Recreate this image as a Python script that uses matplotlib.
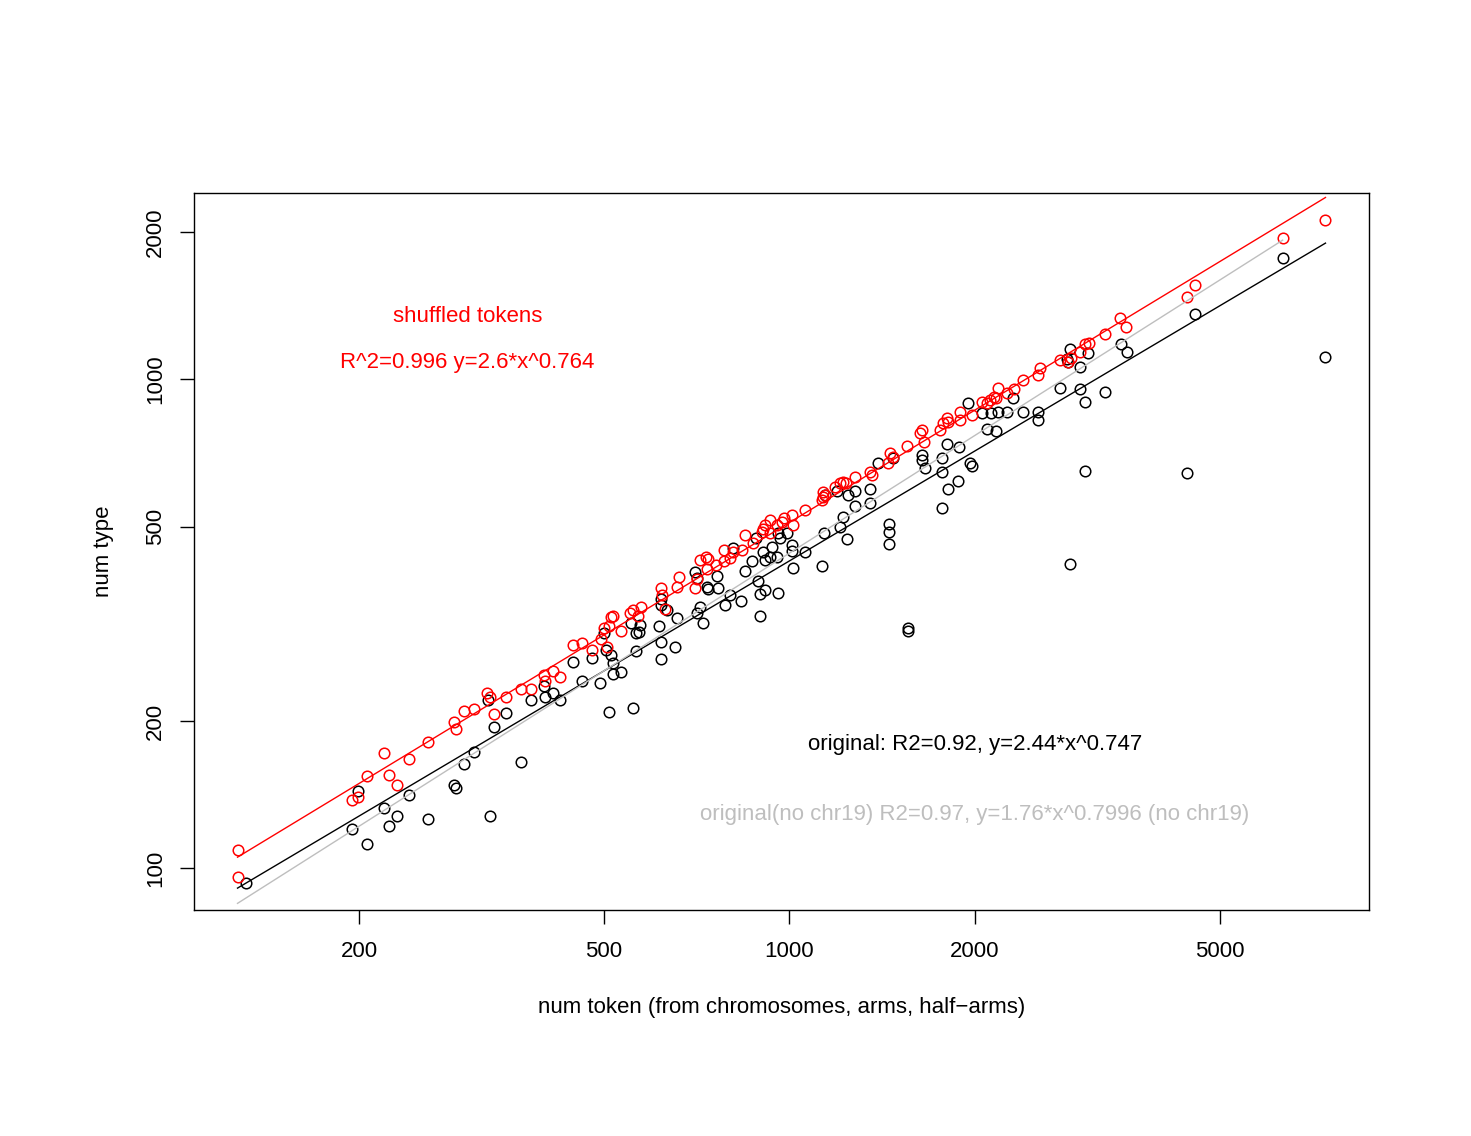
import numpy as np
import matplotlib
matplotlib.use("Agg")
import matplotlib.pyplot as plt

plt.rcParams['font.family'] = ['Liberation Sans', 'DejaVu Sans']

# ---- data: original (black) ----
orig_token = [131, 199, 195, 206, 220, 231, 224, 241, 259, 285, 288, 296, 308, 326,
              332, 324, 346, 366, 380, 399, 401, 413, 425, 445, 460, 478, 492, 501,
              503, 513, 518, 518, 532, 509, 558, 554, 573, 569, 563, 615, 618, 618,
              564, 618, 620, 634, 656, 653, 704, 707, 717, 709, 736, 738, 764, 767,
              725, 787, 802, 811, 836, 848, 871, 884, 888, 897, 897, 908, 914, 932,
              939, 956, 914, 960, 960, 967, 993, 1011, 1015, 1062, 1131, 1140, 1011,
              1144, 1196, 1247, 1279, 1210, 1224, 1241, 1279, 1353, 1353, 1395, 1453,
              1453, 1453, 1475, 1643, 1643, 1662, 1771, 1771, 1771, 1804, 1811, 1880,
              1887, 1951, 1966, 1981, 2056, 2127, 2183, 2257, 2094, 2166, 2308, 2396,
              2534, 2534, 2751, 2835, 2964, 2964, 3021, 3255, 3021, 2856, 2856, 2824,
              3055, 3455, 3534, 4420, 6328, 4555, 7428, 1560, 1560]
orig_type = [93, 144, 120, 112, 133, 128, 122, 141, 126, 148, 146, 163, 173, 128,
             194, 221, 208, 165, 221, 236, 224, 228, 221, 264, 242, 269, 239, 302,
             279, 273, 263, 249, 252, 209, 213, 317, 314, 304, 303, 313, 290, 268,
             278, 356, 345, 337, 325, 284, 403, 392, 342, 332, 376, 372, 396, 374,
             317, 345, 362, 451, 352, 405, 425, 473, 386, 328, 363, 443, 427, 433,
             453, 433, 370, 365, 484, 473, 484, 458, 411, 443, 415, 484, 445,
             579, 590, 579, 591, 498, 522, 471, 550, 598, 558, 676, 505,
             487, 460, 689, 699, 683, 658, 545, 645, 689, 736, 596, 619,
             726, 893, 673, 664, 852, 852, 856, 856, 790, 783, 915, 856,
             856, 824, 959, 1083, 1058, 954, 897, 941, 651, 420, 1152, 1099,
             1130, 1179, 1136, 642, 1768, 1358, 1114, 310, 305]

# ---- data: shuffled tokens (red) ----
shuf_token = [127, 127, 195, 199, 206, 220, 224, 231, 241, 259, 285, 288, 296, 308,
              323, 326, 332, 346, 366, 380, 399, 401, 413, 425, 445, 460, 478, 494,
              505, 501, 514, 518, 509, 532, 552, 558, 575, 567, 620, 622, 629, 656,
              661, 704, 707, 717, 731, 739, 736, 759, 782, 782, 802, 848, 839, 874,
              904, 908, 914, 932, 956, 974, 981, 1011, 1015, 1062, 1131, 811, 932,
              1135, 1135, 1144, 1187, 1210, 1224, 1237, 1279, 1353, 1363, 1448, 1458,
              1475, 1554, 1631, 1643, 1655, 1758, 1777, 1804, 1811, 1894, 1894, 1981,
              2056, 2094, 2118, 2150, 2166, 2183, 2257, 2317, 2396, 2534, 2553, 2751,
              2835, 2866, 2964, 3021, 3066, 3255, 3442, 3520, 4555, 4420, 6328, 7428]
shuf_type = [109, 96, 138, 140, 154, 172, 155, 148, 167, 181, 199, 193, 210, 212,
             228, 224, 207, 224, 233, 232, 248, 241, 253, 246, 286, 289, 280, 294,
             284, 310, 326, 328, 313, 305, 332, 337, 342, 328, 374, 362, 339, 376,
             394, 374, 390, 427, 433, 429, 409, 417, 425, 447, 431, 480, 447, 462,
             487, 493, 503, 515, 503, 510, 520, 527, 503, 540, 566, 443, 484,
             574, 587, 579, 601, 613, 616, 613, 630, 645, 636, 673, 706,
             693, 730, 776, 787, 743, 787, 813, 832, 817, 824, 856, 844,
             897, 893, 906, 919, 915, 959, 936, 954, 995, 1019, 1053, 1094,
             1083, 1104, 1136, 1179, 1185, 1236, 1333, 1283, 1557, 1478, 1943, 2124]

# ---- fitted power laws (from the chart annotations) ----
fit_shuf = (2.6, 0.764)
fit_orig = (2.44, 0.747)
fit_nochr19 = (1.76, 0.7996)

x_ticks = [200, 500, 1000, 2000, 5000]
y_ticks = [100, 200, 500, 1000, 2000]

RED = '#FF0000'
GREY = '#BEBEBE'

fig = plt.figure(figsize=(14.71, 11.36), dpi=100)
ax = fig.add_axes([194 / 1471, 1 - 910 / 1136, (1369 - 194) / 1471, (910 - 193) / 1136])

ax.set_xscale('log')
ax.set_yscale('log')

mk = dict(marker='o', linestyle='none', markersize=7.6, markerfacecolor='none',
          markeredgewidth=1.1)
ax.plot(orig_token, orig_type, markeredgecolor='black', **mk)
ax.plot(shuf_token, shuf_type, markeredgecolor=RED, **mk)

all_x = np.array(orig_token + shuf_token, dtype=float)
lo, hi = all_x.min(), all_x.max()
hi_nochr19 = np.sort(np.unique(all_x))[-2]

xs = np.array([lo, hi])
ax.plot(xs, fit_shuf[0] * xs ** fit_shuf[1], color=RED, lw=1.0)
ax.plot(xs, fit_orig[0] * xs ** fit_orig[1], color='black', lw=1.0)
xs2 = np.array([lo, hi_nochr19])
ax.plot(xs2, fit_nochr19[0] * xs2 ** fit_nochr19[1], color=GREY, lw=1.0)

# R-style 4% axis extension in log space
lx = np.log10(all_x)
all_y = np.log10(np.array(orig_type + shuf_type, dtype=float))
dx = (lx.max() - lx.min()) * 0.04
dy = (all_y.max() - all_y.min()) * 0.04
ax.set_xlim(10 ** (lx.min() - dx), 10 ** (lx.max() + dx))
ax.set_ylim(10 ** (all_y.min() - dy), 10 ** (all_y.max() + dy))

ax.set_xticks(x_ticks)
ax.set_xticklabels([str(v) for v in x_ticks])
ax.set_yticks(y_ticks)
ax.set_yticklabels([str(v) for v in y_ticks], rotation=90, va='center')
ax.minorticks_off()
ax.tick_params(axis='both', direction='out', length=10, width=1.0, labelsize=16)
ax.tick_params(axis='x', pad=12.5)
ax.tick_params(axis='y', pad=10)
for s in ax.spines.values():
    s.set_linewidth(1.0)

ax.set_xlabel('num token (from chromosomes, arms, half\u2212arms)', fontsize=16)
ax.xaxis.set_label_coords(0.5, -(1007 - 910) / 717)
ax.xaxis.label.set_va('center')
ax.set_ylabel('num type', fontsize=16)
ax.yaxis.set_label_coords(-(194 - 103) / 1175, 0.5)
ax.yaxis.label.set_va('center')

ax.text(300, 1345, 'shuffled tokens', color=RED, fontsize=16, ha='center', va='center')
ax.text(300, 1083, 'R^2=0.996 y=2.6*x^0.764', color=RED, fontsize=16, ha='center', va='center')
ax.text(2003, 179, 'original: R2=0.92, y=2.44*x^0.747', color='black', fontsize=16,
        ha='center', va='center')
ax.text(2003, 129, 'original(no chr19) R2=0.97, y=1.76*x^0.7996 (no chr19)', color=GREY,
        fontsize=16, ha='center', va='center')

fig.savefig('out.png', dpi=100)
